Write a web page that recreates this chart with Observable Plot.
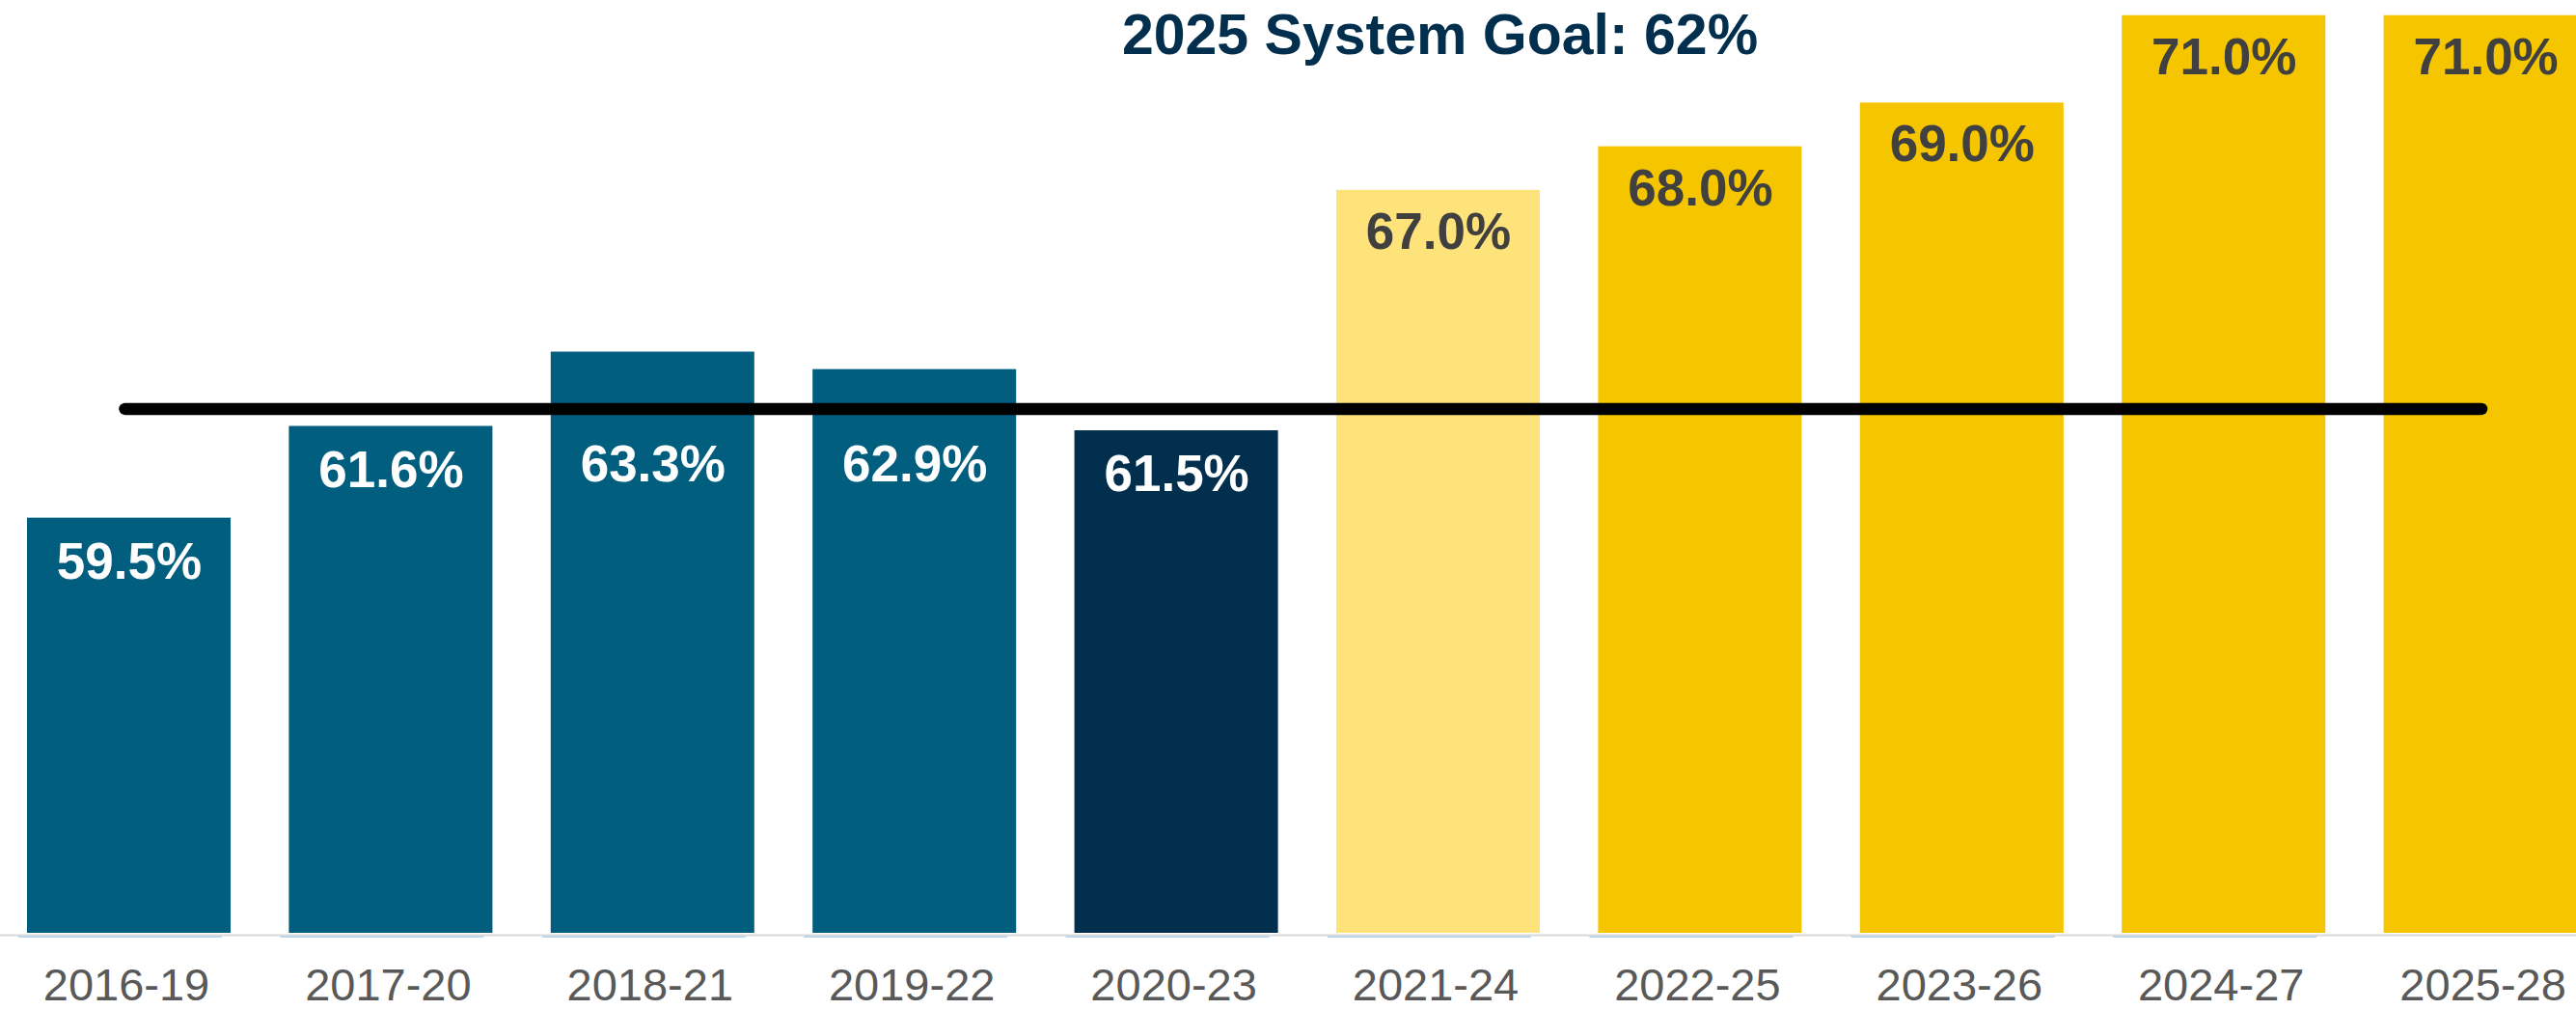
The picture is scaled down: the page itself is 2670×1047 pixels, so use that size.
<!DOCTYPE html>
<html>
<head>
<meta charset="utf-8">
<script src="https://cdn.jsdelivr.net/npm/d3@7"></script>
<script src="https://cdn.jsdelivr.net/npm/@observablehq/plot@0.6"></script>
<style>
  html, body { margin: 0; padding: 0; background: #ffffff; overflow: hidden; }
  #chart svg { display: block; overflow: hidden; }
</style>
</head>
<body>
<div id="chart"></div>
<script>
// ---- data ----
const periods = ["2016-19", "2017-20", "2018-21", "2019-22", "2020-23", "2021-24", "2022-25", "2023-26", "2024-27", "2025-28"];
const rates   = [59.5, 61.6, 63.3, 62.9, 61.5, 67.0, 68.0, 69.0, 71.0, 71.0];
const kinds   = ["actual", "actual", "actual", "actual", "latest", "near", "target", "target", "target", "target"];
const kindNames  = ["actual", "latest", "near", "target"];
const kindColors = ["#025e7e", "#022f4e", "#fee27a", "#f5c600"];
const goalValue = 62;
const titleText = "2025 System Goal: 62%";

const data = periods.map((p, i) => ({period: p, rate: rates[i], kind: kinds[i], idx: i}));
const isDark = d => d.kind === "actual" || d.kind === "latest";
// dark-bar labels that would collide with the goal line are pushed below it
const darkBelow = data.filter(d => isDark(d) && d.rate <= goalValue);
const darkAbove = data.filter(d => isDark(d) && d.rate > goalValue);
const onLight = data.filter(d => !isDark(d));
const fmt = v => d3.format(".1f")(v) + "%";
const FONT = "Liberation Sans, Arial, Helvetica, sans-serif";

const W = 2670, H = 1047;
const base = 967, pxPerPct = 45.3;

const chart = Plot.plot({
  width: W,
  height: H,
  marginLeft: 0,
  marginRight: 0,
  marginTop: 0,
  marginBottom: H - base,
  style: {fontFamily: FONT, background: "#ffffff"},
  x: {domain: periods, range: [-2.2, 2711.8], paddingInner: 0.2225, paddingOuter: 0.11125, round: false, axis: null},
  y: {domain: [50, 71], range: [base, base - 21 * pxPerPct], axis: null},
  color: {domain: kindNames, range: kindColors},
  marks: [
    Plot.barY(data, {x: "period", y1: 50, y2: "rate", fill: "kind"}),
    Plot.ruleY([50], {stroke: "#d9d9d9", strokeWidth: 2, dy: 2}),
    Plot.tickY(data.filter(d => d.idx < 9), {x: "period", y: 50, stroke: "#bdd7ee", strokeWidth: 2, dy: 3.5, dx: -9}),
    Plot.lineY(periods, {x: d => d, y: () => goalValue, stroke: "#000000", strokeWidth: 12.5, strokeLinecap: "round", dx: -4.5}),
    Plot.text(darkBelow, {x: "period", y: "rate", text: d => fmt(d.rate), fill: "#ffffff", fontSize: 53, fontWeight: "bold", fontFamily: FONT, lineAnchor: "top", dy: 25}),
    Plot.text(darkAbove, {x: "period", y: () => goalValue, text: d => fmt(d.rate), fill: "#ffffff", fontSize: 53, fontWeight: "bold", fontFamily: FONT, lineAnchor: "top", dy: 37}),
    Plot.text(onLight, {x: "period", y: "rate", text: d => fmt(d.rate), fill: "#404040", fontSize: 53, fontWeight: "bold", fontFamily: FONT, lineAnchor: "top", dy: 23}),
    Plot.axisX({tickSize: 0, tickPadding: 36, fontSize: 47, fill: "#595959", color: "#595959", fontFamily: FONT, label: null, dx: -3}),
    Plot.text([titleText], {frameAnchor: "top-left", text: d => d, dx: 1492, dy: 55, textAnchor: "middle", lineAnchor: "bottom", fill: "#022f4e", fontSize: 59, fontWeight: "bold", fontFamily: FONT})
  ]
});
document.getElementById("chart").appendChild(chart);
</script>
</body>
</html>
